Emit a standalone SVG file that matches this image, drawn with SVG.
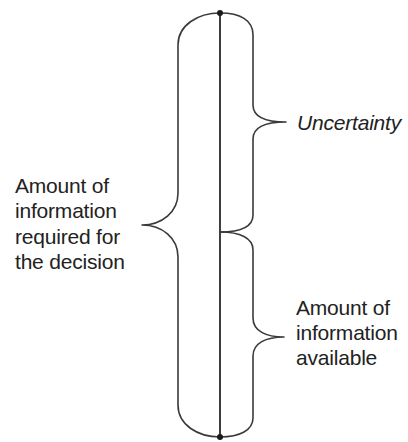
<svg xmlns="http://www.w3.org/2000/svg" width="408" height="442" viewBox="0 0 408 442">
  <style>
    .brace { fill: none; stroke: #3a3a3a; stroke-width: 1.6; stroke-linecap: round; stroke-linejoin: round; }
    .axis { fill: none; stroke: #2a2a2a; stroke-width: 1.8; }
    .dot { fill: #1a1a1a; }
    .label { font-family: "Liberation Sans", Arial, Helvetica, sans-serif; font-size: 21px; fill: #222; letter-spacing: -0.2px; }
    .italic { font-style: italic; }
  </style>
  <rect width="408" height="442" fill="#ffffff"/>

  <g id="connectors">
    <!-- central axis -->
    <line class="axis" x1="220" y1="13" x2="220" y2="437"/>
  </g>

  <g id="required-brace">
    <path class="brace" d="M220,13 C198,13 178,25 178,45 L178,193 C178,212 162,225 142,225 C162,225 178,238 178,257 L178,405 C178,425 198,437 220,437"/>
    <text class="label" x="15" y="193">Amount of</text>
    <text class="label" x="15" y="218">information</text>
    <text class="label" x="15" y="244">required for</text>
    <text class="label" x="15" y="269">the decision</text>
  </g>

  <g id="uncertainty-brace">
    <path class="brace" d="M220,13 C240,13 253,20 253,35 L253,105 C253,117 266,122 286,122 C266,122 253,127 253,139 L253,215 C253,227 240,232 220,232"/>
    <text class="label italic" x="297" y="130">Uncertainty</text>
  </g>

  <g id="available-brace">
    <path class="brace" d="M220,232 C240,232 253,238 253,250 L253,318 C253,331 266,337 284,337 C266,337 253,343 253,356 L253,418 C253,430 240,437 220,437"/>
    <text class="label" x="296" y="315">Amount of</text>
    <text class="label" x="296" y="340">information</text>
    <text class="label" x="296" y="365">available</text>
  </g>

  <g id="endpoints">
    <circle class="dot" cx="220" cy="13" r="3"/>
    <circle class="dot" cx="220" cy="437" r="3"/>
  </g>
</svg>
